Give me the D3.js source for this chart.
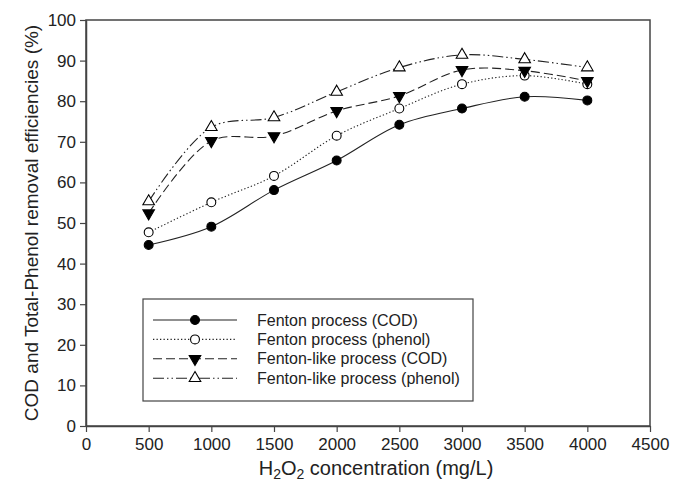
<!DOCTYPE html>
<html>
<head>
<meta charset="utf-8">
<script src="https://cdn.jsdelivr.net/npm/d3@7"></script>
<style>
  body { margin: 0; background: #fff; }
  text { font-family: Arial, "Liberation Sans", sans-serif; fill: #222; }
</style>
</head>
<body>
<script>
// H2O2 dose (mg/L)
var doses = [500, 1000, 1500, 2000, 2500, 3000, 3500, 4000];

var fentonCOD      = [44.6, 49.1, 58.1, 65.4, 74.2, 78.2, 81.1, 80.2];
var fentonPhenol   = [47.7, 55.1, 61.6, 71.5, 78.2, 84.2, 86.3, 84.2];
var likeCOD        = [52.4, 70.2, 71.4, 77.6, 81.3, 87.7, 87.5, 85.0];
var likePhenol     = [55.3, 73.6, 76.0, 82.3, 88.3, 91.4, 90.3, 88.3];

var seriesNames = ["Fenton process (COD)", "Fenton process (phenol)",
                   "Fenton-like process (COD)", "Fenton-like process (phenol)"];

var xTicks = [0, 500, 1000, 1500, 2000, 2500, 3000, 3500, 4000, 4500];
var yTicks = [0, 10, 20, 30, 40, 50, 60, 70, 80, 90, 100];

var W = 674, H = 493;
var pLeft = 86, pRight = 650, pTop = 20, pBottom = 426;

var svg = d3.select("body").append("svg")
    .attr("width", W).attr("height", H);

var x = d3.scaleLinear().domain([0, 4500]).range([pLeft, pRight]);
var y = d3.scaleLinear().domain([0, 100]).range([pBottom, pTop]);

// styles per series
var styles = [
  { vals: fentonCOD,    dash: null,                 sym: "circle", fill: "#000" },
  { vals: fentonPhenol, dash: "1.3,2.2",            sym: "circle", fill: "#fff" },
  { vals: likeCOD,      dash: "9,4",                sym: "down",   fill: "#000" },
  { vals: likePhenol,   dash: "11,3,1.5,3,1.5,3",   sym: "up",     fill: "#fff" }
];

function symbolPath(s) {
  if (s == "circle") return d3.symbol().type(d3.symbolCircle).size(62)();
  return d3.symbol().type(d3.symbolTriangle).size(58)();
}
function symbolTransform(s, px, py) {
  var t = "translate(" + px + "," + py + ")";
  if (s == "down") t += " rotate(180)";
  return t;
}

// frame
svg.append("rect")
    .attr("x", pLeft).attr("y", pTop)
    .attr("width", pRight - pLeft).attr("height", pBottom - pTop)
    .attr("fill", "none").attr("stroke", "#444").attr("stroke-width", 1.5);

// axes
var xAxis = svg.append("g")
    .attr("transform", "translate(0," + pBottom + ")")
    .call(d3.axisBottom(x).tickValues(xTicks).tickFormat(d3.format("d")).tickSize(6).tickSizeOuter(0));
var yAxis = svg.append("g")
    .attr("transform", "translate(" + pLeft + ",0)")
    .call(d3.axisLeft(y).tickValues(yTicks).tickFormat(d3.format("d")).tickSize(6).tickSizeOuter(0));

[xAxis, yAxis].forEach(function(a) {
  a.select(".domain").attr("stroke", "#444").attr("stroke-width", 1.5);
  a.selectAll(".tick line").attr("stroke", "#444").attr("stroke-width", 1.2);
  a.selectAll(".tick text").style("font-size", "17px").attr("fill", "#222");
});
xAxis.selectAll(".tick text").attr("dy", "0.88em");
yAxis.selectAll(".tick text").attr("dx", "-1px");

// lines
var line = d3.line()
    .x(function(d) { return x(d[0]); })
    .y(function(d) { return y(d[1]); })
    .curve(d3.curveCatmullRom.alpha(0.5));

styles.forEach(function(st) {
  var pts = doses.map(function(d, i) { return [d, st.vals[i]]; });
  svg.append("path")
      .datum(pts)
      .attr("d", line)
      .attr("fill", "none")
      .attr("stroke", "#222")
      .attr("stroke-width", 1.1)
      .attr("stroke-dasharray", st.dash);
});

styles.forEach(function(st) {
  svg.append("g").selectAll("path")
      .data(doses.map(function(d, i) { return [d, st.vals[i]]; }))
      .enter().append("path")
      .attr("d", symbolPath(st.sym))
      .attr("transform", function(d) { return symbolTransform(st.sym, x(d[0]), y(d[1])); })
      .attr("fill", st.fill)
      .attr("stroke", "#000")
      .attr("stroke-width", 1.1);
});

// legend
var lg = svg.append("g");
lg.append("rect")
    .attr("x", 143).attr("y", 299).attr("width", 330).attr("height", 102)
    .attr("fill", "#fff").attr("stroke", "#444").attr("stroke-width", 1.2);

styles.forEach(function(st, i) {
  var ly = 320 + i * 19.4;
  lg.append("line")
      .attr("x1", 153).attr("x2", 237).attr("y1", ly).attr("y2", ly)
      .attr("stroke", "#222").attr("stroke-width", 1.1)
      .attr("stroke-dasharray", st.dash);
  lg.append("path")
      .attr("d", symbolPath(st.sym))
      .attr("transform", symbolTransform(st.sym, 195, ly))
      .attr("fill", st.fill).attr("stroke", "#000").attr("stroke-width", 1.1);
  lg.append("text")
      .attr("x", 257).attr("y", ly + 5.5)
      .style("font-size", "16px")
      .text(seriesNames[i]);
});

// axis titles
var xt = svg.append("text")
    .attr("x", 376).attr("y", 475)
    .attr("text-anchor", "middle")
    .style("font-size", "20px");
xt.append("tspan").text("H");
xt.append("tspan").text("2").style("font-size", "14px").attr("dy", 4);
xt.append("tspan").text("O").attr("dy", -4);
xt.append("tspan").text("2").style("font-size", "14px").attr("dy", 4);
xt.append("tspan").text(" concentration (mg/L)").attr("dy", -4);

svg.append("text")
    .attr("transform", "translate(38," + ((pTop + pBottom) / 2) + ") rotate(-90)")
    .attr("text-anchor", "middle")
    .style("font-size", "19px")
    .text("COD and Total-Phenol removal efficiencies (%)");
</script>
</body>
</html>
